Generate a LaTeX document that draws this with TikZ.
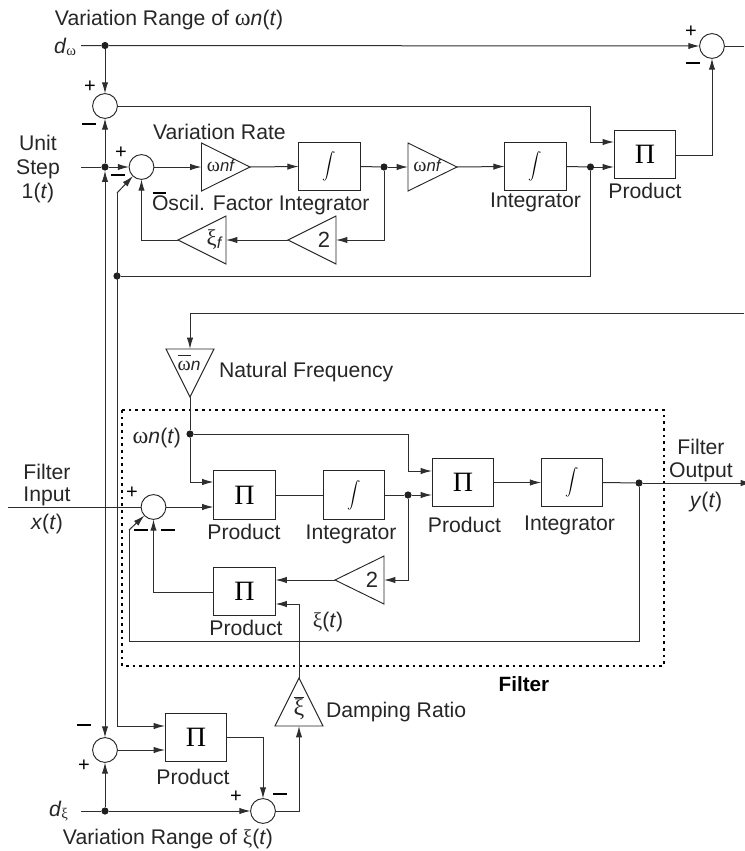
\documentclass[tikz,border=0pt]{standalone}
\usepackage{fontspec}
\setmainfont{Liberation Sans}
\newfontfamily\gk{Liberation Serif}
\usetikzlibrary{arrows.meta}
\newcommand{\wg}{{\gk ω}}
\newcommand{\wgb}{{\gk\fontsize{18}{18}\selectfont ω}}
\newcommand{\xg}{{\gk ξ}}
\newcommand{\intg}{$\displaystyle\int$}
\newcommand{\pig}{{\gk\fontsize{21}{22}\selectfont Π}}
\newcommand{\nfg}{{\itshape\fontsize{12.5}{14}\selectfont nf}}
\newcommand{\mns}{\rule{10pt}{1.5pt}}
\tikzset{
 ln/.style={draw=black!82,line width=0.75pt,line join=miter},
 arr/.style={ln,-{Latex[length=8.5pt,width=4.8pt]}},
 barr/.style={ln,{Latex[length=8.5pt,width=4.8pt]}-{Latex[length=8.5pt,width=4.8pt]}},
 sumc/.style={circle,draw=black!85,line width=0.7pt,minimum size=18.6pt,inner sep=0pt,outer sep=0pt},
 dotn/.style={circle,fill=black!88,minimum size=5.4pt,inner sep=0pt,outer sep=0pt},
 blk/.style={rectangle,draw=black!85,line width=0.7pt,minimum width=46.2pt,minimum height=36.6pt,inner sep=0pt,outer sep=0pt},
 tri/.style={draw=black!85,line width=0.7pt,line join=miter},
 lab/.style={inner sep=0pt,outer sep=0pt,text=black!85,font=\fontsize{15.9}{18}\selectfont,align=center},
 sgn/.style={inner sep=0pt,outer sep=0pt,text=black,font=\fontsize{15}{16}\selectfont},
 gl/.style={inner sep=0pt,outer sep=0pt,text=black!85,font=\fontsize{15}{16}\selectfont},
 frame/.style={draw=black,line width=2pt,dash pattern=on 2pt off 3pt},
}
\begin{document}
\begin{tikzpicture}[x=0.75pt,y=-0.75pt]
\useasboundingbox (0,0) rectangle (744,851);
% frame
\node[inner sep=0pt,outer sep=0pt] (fa) at (122,410) {};
\node[inner sep=0pt,outer sep=0pt] (fb) at (664,666) {};
\draw[frame] (fa) rectangle (fb);
% summing junctions
\node[sumc] (s1) at (105,106) {};
\node[sumc] (s2) at (141.5,167) {};
\node[sumc] (s3) at (105,750) {};
\node[sumc] (s4) at (153.5,507) {};
\node[sumc] (s5) at (712,46) {};
\node[sumc] (s6) at (263,811) {};
% blocks
\node[blk] (i1) at (329.5,166.5) {\intg};
\node[blk] (i2) at (535.5,166.5) {\intg};
\node[blk] (p1) at (645,154.5) {\pig};
\node[blk] (p2) at (244.5,495) {\pig};
\node[blk] (i3) at (354,495) {\intg};
\node[blk] (p3) at (463,482.5) {\pig};
\node[blk] (i4) at (572,482.5) {\intg};
\node[blk] (p4) at (244.5,591.5) {\pig};
\node[blk] (p5) at (196,737.5) {\pig};
% gain triangles (apex -a, base middle -b)
\coordinate (g1-b) at (201.5,167); \coordinate (g1-a) at (250,167);
\draw[tri] (201.5,143) -- (250,167) -- (201.5,191) -- cycle;
\node[gl] (g1t) at (220.5,166) {\wg\nfg};
\coordinate (g2-b) at (408,167); \coordinate (g2-a) at (457,167);
\draw[tri] (408,143) -- (457,167) -- (408,191) -- cycle;
\node[gl] (g2t) at (427,166) {\wg\nfg};
\coordinate (g3-b) at (336,240); \coordinate (g3-a) at (288,240);
\draw[tri] (336,216) -- (288,240) -- (336,264) -- cycle;
\node[lab,font=\fontsize{16.5}{18}\selectfont] (g3t) at (324,240) {2};
\coordinate (g4-b) at (226,240); \coordinate (g4-a) at (178,240);
\draw[tri] (226,216) -- (178,240) -- (226,264) -- cycle;
\node[gl,font=\fontsize{17}{18}\selectfont] (g4t) at (214,240) {\xg{\itshape\fontsize{12}{12}\selectfont\raisebox{-2pt}{f}}};
\coordinate (g5-b) at (190,349); \coordinate (g5-a) at (190,397);
\draw[tri] (166,349) -- (190,397) -- (214,349) -- cycle;
\node[gl] (g5t) at (189,363) {$\overline{\rule{0pt}{10pt}\hbox{\wg}}${\itshape\fontsize{13}{14}\selectfont n}};
\coordinate (g6-b) at (384,580); \coordinate (g6-a) at (335,580);
\draw[tri] (384,556) -- (335,580) -- (384,604) -- cycle;
\node[lab,font=\fontsize{16.5}{18}\selectfont] (g6t) at (372,580) {2};
\coordinate (g7-b) at (299,726); \coordinate (g7-a) at (299,678);
\draw[tri] (275,726) -- (299,678) -- (323,726) -- cycle;
\node[gl,font=\fontsize{18}{19}\selectfont] (g7t) at (299,708) {$\overline{\hbox{\xg}}$};
% junction dots
\node[dotn] (d1) at (105,45.5) {};
\node[dotn] (d2) at (105,167) {};
\node[dotn] (d3) at (384,167) {};
\node[dotn] (d4) at (590.5,167) {};
\node[dotn] (d5) at (117,276) {};
\node[dotn] (d6) at (190,434) {};
\node[dotn] (d7) at (408,495) {};
\node[dotn] (d8) at (639,483) {};
\node[dotn] (d9) at (105,811) {};
% free ends and bends
\coordinate (cw) at (81,45.5);
\coordinate (cu) at (81,167);
\coordinate (cx) at (8,507);
\coordinate (cy) at (752,483);
\coordinate (cd) at (81,811);
\coordinate (cn) at (744,313);
\coordinate (co) at (744,46);
\coordinate (b2) at (117,193);
\coordinate (b4) at (129,530);
\coordinate (b4l) at (129,641);
\coordinate (p1u) at (614,142);
\coordinate (p1l) at (614,167);
\coordinate (p2u) at (213.5,482);
\coordinate (p2l) at (213.5,507);
\coordinate (p3u) at (432,471);
\coordinate (p3l) at (432,495);
\coordinate (p4r) at (275.5,604);
\coordinate (p4i) at (275.5,580);
\coordinate (p4l) at (213.5,592);
\coordinate (p5u) at (165,726);
\coordinate (p5l) at (165,750);
\coordinate (p5o) at (227,737.5);
\coordinate (p1o) at (676,155);
% top network
\draw[arr] (cw) -- (d1) -- (s5);
\draw[ln] (s5) -- (co);
\draw[arr] (d1) -- (s1);
\draw[arr] (s1.east) -| (590.5,142) -- (p1u);
\draw[arr] (p1o) -| (s5.south);
\draw[arr] (cu) -- (d2) -- (s2);
\draw[arr] (d2) -- (s1);
\draw[barr] (d2) -- (s3);
\draw[arr] (s2) -- (g1-b);
\draw[arr] (g1-a) -- (i1.west);
\draw[ln] (i1.east) -- (d3);
\draw[arr] (d3) -- (g2-b);
\draw[arr] (g2-a) -- (i2.west);
\draw[ln] (i2.east) -- (d4);
\draw[arr] (d4) -- (p1l);
\draw[arr] (d3) |- (g3-b);
\draw[arr] (g3-a) -- (g4-b);
\draw[arr] (g4-a) -| (s2.south);
\draw[ln] (d4) |- (d5);
\draw[arr] (b2) -- (s2);
\draw[arr] (b2) |- (p5u);
% natural frequency
\draw[arr] (cn) -| (g5-b);
\draw[ln] (g5-a) -- (d6);
\draw[arr] (d6) |- (p2u);
\draw[arr] (d6) -| (408.5,471) -- (p3u);
% filter
\draw[ln] (cx) -- (s4);
\draw[arr] (s4) -- (p2l);
\draw[ln] (p2.east) -- (i3.west);
\draw[ln] (i3.east) -- (d7);
\draw[arr] (d7) -- (p3l);
\draw[arr] (p3.east) -- (i4.west);
\draw[ln] (i4.east) -- (d8);
\draw[arr] (d8) -- (cy);
\draw[arr] (d7) |- (g6-b);
\draw[arr] (g6-a) -- (p4i);
\draw[arr] (p4l) -| (s4.south);
\draw[ln] (d8) |- (b4l) -- (b4);
\draw[arr] (b4) -- (s4);
% damping
\draw[arr] (g7-a) |- (p4r);
\draw[arr] (s6) -| (g7-b);
\draw[arr] (s3) -- (p5l);
\draw[arr] (p5o) -| (s6.north);
\draw[arr] (cd) -- (d9) -- (s6);
\draw[arr] (d9) -- (s3);
% labels
\node[lab,anchor=west] (t1) at (55,20) {Variation Range of \wgb{\itshape n}(\textit{t})};
\node[lab,anchor=west] (t2) at (54,47) {\textit{d}\raisebox{-1pt}{\fontsize{11}{12}\selectfont\wg}};
\node[lab] (t3) at (38,169) {Unit\\Step\\1(\textit{t})};
\node[lab,anchor=west] (t4) at (153,132) {Variation Rate};
\node[lab,anchor=west] (t5) at (152,205) {Oscil. Factor Integrator};
\node[lab] (t6) at (535.5,202) {Integrator};
\node[lab] (t7) at (645,191) {Product};
\node[lab,anchor=west] (t8) at (219,372) {Natural Frequency};
\node[lab,anchor=east] (t9) at (181,438) {\wgb{\itshape n}(\textit{t})};
\node[lab] (t10) at (47,485) {Filter\\[-1.5pt]Input};
\node[lab] (t11) at (47,524) {\textit{x}(\textit{t})};
\node[lab] (t12) at (701,460.5) {Filter\\[-1pt]Output};
\node[lab] (t13) at (706,502) {\textit{y}(\textit{t})};
\node[lab] (t14) at (244,532) {Product};
\node[lab] (t15) at (351,534) {Integrator};
\node[lab] (t16) at (464.5,525) {Product};
\node[lab] (t17) at (569.5,525) {Integrator};
\node[lab] (t18) at (246,628) {Product};
\node[lab] (t19) at (328,622) {\xg(\textit{t})};
\node[lab,font=\fontsize{15.5}{17}\selectfont\bfseries,text=black] (t20) at (524,684) {Filter};
\node[lab,anchor=west] (t21) at (326,712) {Damping Ratio};
\node[lab] (t22) at (193,777) {Product};
\node[lab,anchor=west] (t23) at (49,811) {\textit{d}\raisebox{-1pt}{\fontsize{11}{12}\selectfont\xg}};
\node[lab] (t24) at (168,839) {Variation Range of \xg(\textit{t})};
% signs
\node[sgn] (m1) at (90,87) {+};
\node[sgn] (m2) at (89,123.5) {\mns};
\node[sgn] (m3) at (121,153) {+};
\node[sgn] (m4) at (118,175) {\mns};
\node[sgn] (m5) at (691,32) {+};
\node[sgn] (m6) at (693,63) {\mns};
\node[sgn] (m7) at (132,493) {+};
\node[sgn] (m8) at (141,530) {\mns};
\node[sgn] (m9) at (168,530) {\mns};
\node[sgn] (m10) at (84,725) {\mns};
\node[sgn] (m11) at (84,766) {+};
\node[sgn] (m12) at (236,797) {+};
\node[sgn] (m13) at (280,794) {\mns};
\node[sgn] (m14) at (159.5,193) {\mns};
\end{tikzpicture}
\end{document}
